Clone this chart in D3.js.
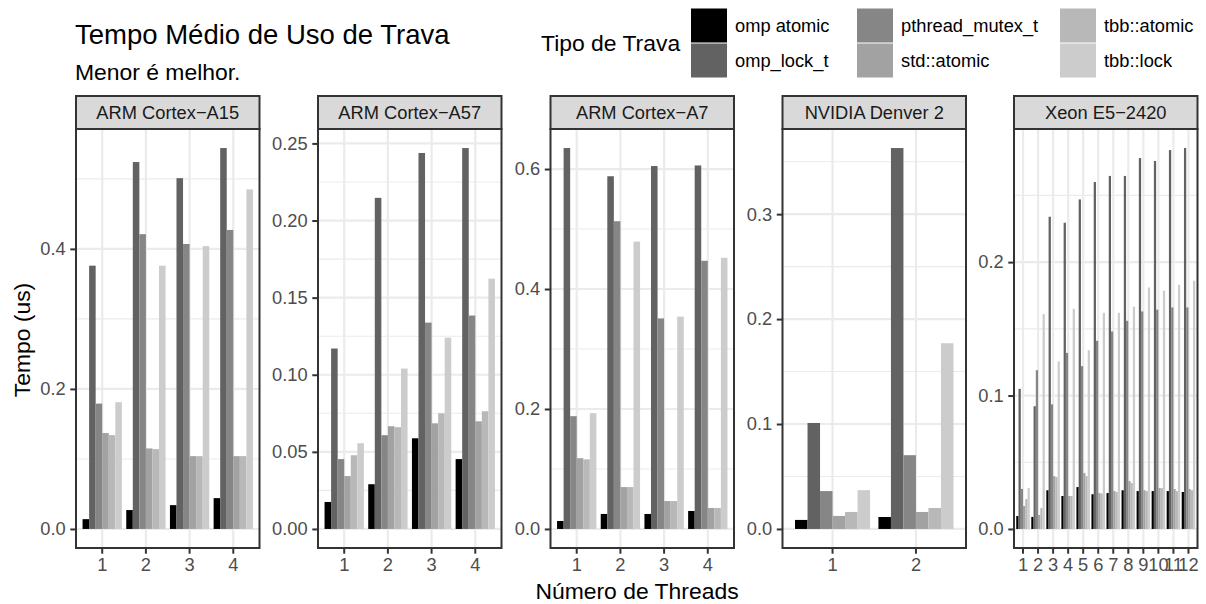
<!DOCTYPE html>
<html>
<head>
<meta charset="utf-8">
<script src="https://cdn.jsdelivr.net/npm/d3@7"></script>
<style>
  body { margin: 0; background: #fff; }
  svg { font-family: "Liberation Sans", Arial, Helvetica, sans-serif; }
</style>
</head>
<body>
<svg id="chart" width="1206" height="604"></svg>
<script>
/* lock types and their grey fills (scale_fill_grey 0 -> 0.8) */
const lockTypes = ["omp atomic", "omp_lock_t", "pthread_mutex_t", "std::atomic", "tbb::atomic", "tbb::lock"];
const greys = ["#000000", "#626262", "#868686", "#A2A2A2", "#B8B8B8", "#CCCCCC"];

const processors = ["ARM Cortex\u2212A15", "ARM Cortex\u2212A57", "ARM Cortex\u2212A7", "NVIDIA Denver 2", "Xeon E5\u22122420"];

/* threads per processor */
const threadsA15 = ["1", "2", "3", "4"];
const threadsA57 = ["1", "2", "3", "4"];
const threadsA7 = ["1", "2", "3", "4"];
const threadsDenver = ["1", "2"];
const threadsXeon = ["1", "2", "3", "4", "5", "6", "7", "8", "9", "10", "11", "12"];

/* mean lock time (us), one row per thread count, columns in lockTypes order */
const timeA15 = [
  [0.014, 0.376, 0.179, 0.137, 0.134, 0.181],
  [0.027, 0.524, 0.421, 0.115, 0.114, 0.376],
  [0.034, 0.501, 0.407, 0.104, 0.104, 0.404],
  [0.044, 0.544, 0.427, 0.104, 0.104, 0.485]
];
const timeA57 = [
  [0.0175, 0.117, 0.0453, 0.0343, 0.0478, 0.0556],
  [0.029, 0.2147, 0.0608, 0.0666, 0.066, 0.104],
  [0.0588, 0.2438, 0.1338, 0.0685, 0.075, 0.124],
  [0.0453, 0.247, 0.1384, 0.0698, 0.0763, 0.1623]
];
const timeA7 = [
  [0.0133, 0.635, 0.188, 0.118, 0.116, 0.193],
  [0.025, 0.588, 0.513, 0.0698, 0.0698, 0.479],
  [0.025, 0.605, 0.351, 0.0465, 0.0465, 0.354],
  [0.030, 0.606, 0.447, 0.035, 0.035, 0.452]
];
const timeDenver = [
  [0.0086, 0.101, 0.0361, 0.0124, 0.0162, 0.037],
  [0.0114, 0.363, 0.0703, 0.0162, 0.020, 0.177]
];
const timeXeon = [
  [0.0097, 0.105, 0.030, 0.0172, 0.0224, 0.0306],
  [0.009, 0.092, 0.119, 0.0105, 0.0157, 0.161],
  [0.029, 0.234, 0.0934, 0.0396, 0.0389, 0.1256],
  [0.0247, 0.2295, 0.132, 0.0247, 0.0247, 0.165],
  [0.0314, 0.247, 0.122, 0.0419, 0.0396, 0.134],
  [0.026, 0.26, 0.141, 0.0269, 0.0266, 0.162],
  [0.0269, 0.2646, 0.148, 0.0284, 0.0277, 0.162],
  [0.029, 0.2646, 0.156, 0.0359, 0.0344, 0.1667],
  [0.0284, 0.278, 0.163, 0.029, 0.0284, 0.181],
  [0.0284, 0.2758, 0.1644, 0.0306, 0.0306, 0.1786],
  [0.0284, 0.284, 0.166, 0.0299, 0.0284, 0.183],
  [0.0277, 0.2855, 0.166, 0.0299, 0.029, 0.186]
];

/* y tick values and labels per panel */
const yTicksA15 = [0, 0.2, 0.4];
const yLabelsA15 = ["0.0", "0.2", "0.4"];
const yTicksA57 = [0, 0.05, 0.10, 0.15, 0.20, 0.25];
const yLabelsA57 = ["0.00", "0.05", "0.10", "0.15", "0.20", "0.25"];
const yTicksA7 = [0, 0.2, 0.4, 0.6];
const yLabelsA7 = ["0.0", "0.2", "0.4", "0.6"];
const yTicksDenver = [0, 0.1, 0.2, 0.3];
const yLabelsDenver = ["0.0", "0.1", "0.2", "0.3"];
const yTicksXeon = [0, 0.1, 0.2];
const yLabelsXeon = ["0.0", "0.1", "0.2"];

const panels = [
  { name: processors[0], threads: threadsA15, values: timeA15, ticks: yTicksA15, labels: yLabelsA15 },
  { name: processors[1], threads: threadsA57, values: timeA57, ticks: yTicksA57, labels: yLabelsA57 },
  { name: processors[2], threads: threadsA7, values: timeA7, ticks: yTicksA7, labels: yLabelsA7 },
  { name: processors[3], threads: threadsDenver, values: timeDenver, ticks: yTicksDenver, labels: yLabelsDenver },
  { name: processors[4], threads: threadsXeon, values: timeXeon, ticks: yTicksXeon, labels: yLabelsXeon }
];

/* layout */
const panelLeft = [76, 318, 550.5, 782.5, 1014];
const panelW = 183.5;
const stripTop = 96, panelTop = 129, panelBottom = 548;
const axisFont = "18.3px", titleFont = "22.9px";

const svg = d3.select("#chart");

panels.forEach((p, k) => {
  const g = svg.append("g").attr("transform", `translate(${panelLeft[k]},0)`);

  const x = d3.scaleBand().domain(p.threads).range([0, panelW])
    .paddingInner(0.1).paddingOuter(0.15);
  const xSub = d3.scaleBand().domain(lockTypes).range([0, x.bandwidth()]);

  const yMax = d3.max(p.values.flat());
  const y = d3.scaleLinear().domain([-0.05 * yMax, 1.05 * yMax]).range([panelBottom, panelTop]);

  /* minor breaks: midpoints between majors */
  const step = p.ticks[1] - p.ticks[0];
  const minors = p.ticks.map(t => t + step / 2).filter(t => t <= y.domain()[1]);

  g.append("rect").attr("x", 0).attr("y", panelTop).attr("width", panelW)
    .attr("height", panelBottom - panelTop).attr("fill", "#fff");

  g.selectAll(".minor").data(minors).join("line")
    .attr("x1", 0).attr("x2", panelW)
    .attr("y1", d => y(d)).attr("y2", d => y(d))
    .attr("stroke", "#EBEBEB").attr("stroke-width", 1.1);

  g.selectAll(".hmajor").data(p.ticks).join("line")
    .attr("x1", 0).attr("x2", panelW)
    .attr("y1", d => y(d)).attr("y2", d => y(d))
    .attr("stroke", "#EBEBEB").attr("stroke-width", 2.2);

  g.selectAll(".vmajor").data(p.threads).join("line")
    .attr("x1", d => x(d) + x.bandwidth() / 2).attr("x2", d => x(d) + x.bandwidth() / 2)
    .attr("y1", panelTop).attr("y2", panelBottom)
    .attr("stroke", "#EBEBEB").attr("stroke-width", 2.2);

  /* bars */
  p.threads.forEach((t, i) => {
    g.append("g").selectAll("rect")
      .data(p.values[i].map((v, j) => ({ type: lockTypes[j], v: v, c: greys[j] })))
      .join("rect")
      .attr("x", d => x(t) + xSub(d.type))
      .attr("width", xSub.bandwidth())
      .attr("y", d => y(d.v))
      .attr("height", d => y(0) - y(d.v))
      .attr("fill", d => d.c);
  });

  /* border */
  g.append("rect").attr("x", 0).attr("y", panelTop).attr("width", panelW)
    .attr("height", panelBottom - panelTop).attr("fill", "none")
    .attr("stroke", "#333333").attr("stroke-width", 2);

  /* strip */
  g.append("rect").attr("x", 0).attr("y", stripTop).attr("width", panelW)
    .attr("height", panelTop - stripTop).attr("fill", "#D9D9D9")
    .attr("stroke", "#333333").attr("stroke-width", 2);
  g.append("text").attr("x", panelW / 2).attr("y", 119)
    .attr("text-anchor", "middle").attr("font-size", axisFont).attr("fill", "#1A1A1A")
    .text(p.name);

  /* axes */
  const yAxis = g.append("g")
    .call(d3.axisLeft(y).tickValues(p.ticks).tickFormat((d, i) => p.labels[i])
      .tickSize(5.7).tickPadding(4.6));
  const xAxis = g.append("g").attr("transform", `translate(0,${panelBottom})`)
    .call(d3.axisBottom(x).tickSize(5.7).tickPadding(4));

  [yAxis, xAxis].forEach(a => {
    a.select(".domain").remove();
    a.selectAll(".tick line").attr("stroke", "#333333").attr("stroke-width", 2);
    a.selectAll(".tick text").attr("fill", "#4D4D4D")
      .style("font-size", axisFont).style("font-family", "Liberation Sans, Arial, sans-serif");
  });
});

/* axis titles */
svg.append("text").attr("x", 637).attr("y", 599).attr("text-anchor", "middle")
  .attr("font-size", titleFont).text("Número de Threads");
svg.append("text").attr("transform", "translate(30,340) rotate(-90)")
  .attr("text-anchor", "middle").attr("font-size", titleFont).text("Tempo (us)");

/* titles */
svg.append("text").attr("x", 75).attr("y", 44).attr("font-size", "27.5px").text("Tempo Médio de Uso de Trava");
svg.append("text").attr("x", 75).attr("y", 80).attr("font-size", titleFont).text("Menor é melhor.");

/* legend: filled by column, two rows */
const legend = svg.append("g");
legend.append("text").attr("x", 541).attr("y", 51).attr("font-size", titleFont).text("Tipo de Trava");
const keyX = [691, 857, 1060];
const labelX = [735, 901, 1104];
const keyY = [8, 43];
const keyW = 36, keyH = 35;
lockTypes.forEach((t, j) => {
  const col = Math.floor(j / 2), row = j % 2;
  legend.append("rect").attr("x", keyX[col]).attr("y", keyY[row] + 0.5)
    .attr("width", keyW).attr("height", keyH - 1).attr("fill", greys[j]);
  legend.append("text").attr("x", labelX[col]).attr("y", keyY[row] + keyH / 2 + 6.5)
    .attr("font-size", axisFont).text(t);
});
</script>
</body>
